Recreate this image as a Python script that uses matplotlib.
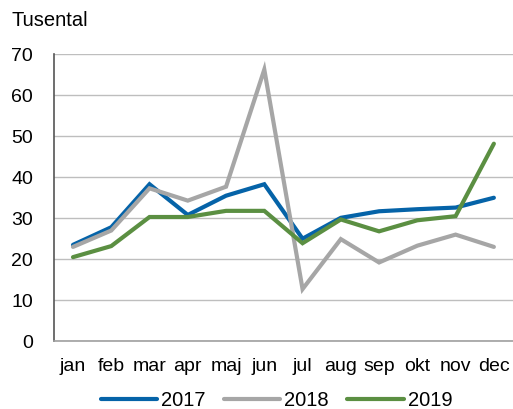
import matplotlib
matplotlib.use("Agg")
import matplotlib.pyplot as plt

months = ["jan", "feb", "mar", "apr", "maj", "jun", "jul", "aug", "sep", "okt", "nov", "dec"]
v2017 = [23.5, 27.8, 38.3, 30.8, 35.5, 38.3, 25.0, 30.1, 31.7, 32.2, 32.6, 35.0]
v2018 = [23.0, 27.0, 37.3, 34.3, 37.7, 66.3, 12.7, 24.9, 19.2, 23.3, 26.0, 23.0]
v2019 = [20.5, 23.2, 30.3, 30.3, 31.8, 31.8, 23.9, 29.7, 26.8, 29.5, 30.5, 48.2]
years = ["2017", "2018", "2019"]
colors = ["#0563A8", "#A6A6A6", "#5B8F42"]

plt.rcParams["font.family"] = ["Liberation Sans", "DejaVu Sans"]

fig = plt.figure(figsize=(5.13, 4.09), dpi=100)
ax = fig.add_axes([0.105, 0.166, 0.895, 0.701])

x = range(len(months))
for vals, lab, col in zip([v2017, v2018, v2019], years, colors):
    ax.plot(x, vals, color=col, lw=3.0, label=lab, solid_capstyle="round",
            solid_joinstyle="miter")

ax.set_xlim(-0.5, 11.5)
ax.set_ylim(0, 70)
ax.set_yticks(range(0, 71, 10))
ax.set_xticks(list(x))
ax.set_xticklabels(months)
ax.grid(axis="y", color="#BEBEBE", lw=1.0)
ax.set_axisbelow(True)
for s in ["top", "right"]:
    ax.spines[s].set_visible(False)
ax.spines["left"].set_color("#555555")
ax.spines["left"].set_linewidth(1.2)
ax.spines["bottom"].set_color("#A0A0A0")
ax.spines["bottom"].set_linewidth(1.2)
ax.tick_params(axis="both", length=0, labelsize=14, colors="black")
ax.tick_params(axis="y", pad=15)
ax.tick_params(axis="x", pad=12)

fig.text(0.023, 0.951, "Tusental", fontsize=14.5, va="center", ha="left")

ax.legend(loc="lower center", bbox_to_anchor=(0.485, -0.27), ncol=3, frameon=False,
          fontsize=14.5, handlelength=2.8, handletextpad=0.2, columnspacing=0.9,
          borderaxespad=0)

fig.savefig("out.png", dpi=100)
